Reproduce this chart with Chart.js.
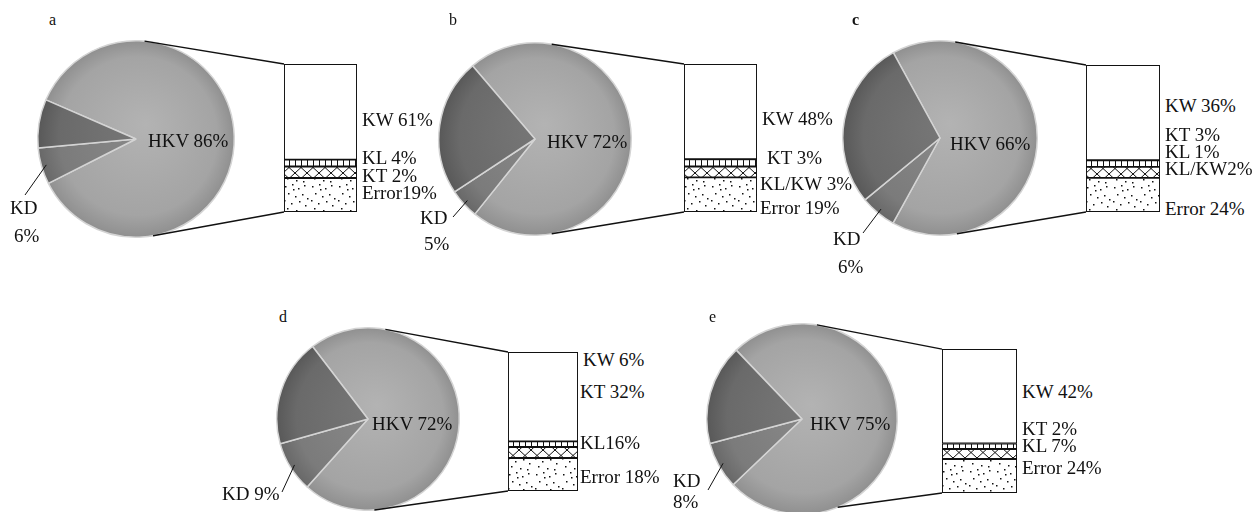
<!DOCTYPE html>
<html>
<head>
<meta charset="utf-8">
<script src="https://cdn.jsdelivr.net/npm/chart.js@4.4.0/dist/chart.umd.min.js"></script>
<style>
  body { margin: 0; background: #fff; }
  #fig { position: relative; width: 1258px; height: 512px; overflow: hidden;
         font-family: "Liberation Serif", "Times New Roman", serif; color: #111; }
  #fig canvas { position: absolute; }
  .lbl { position: absolute; font-size: 19px; line-height: 1; white-space: nowrap; transform: translateY(-50%); }
  .tag { position: absolute; font-size: 16px; line-height: 1; transform: translateY(-50%); }
</style>
</head>
<body>
<div id="fig"></div>
<script>
// ---- data ----
const panels = ['a', 'b', 'c', 'd', 'e'];

// pie slices (percent)
const pieCategories = ['HKV', 'KD', 'other'];
const hkvShare = [86, 72, 66, 72, 75];
const kdShare = [6, 5, 6, 9, 8];
const otherShare = [8, 23, 28, 19, 17];

// exploded bar, segments as drawn (percent of bar height, bottom to top)
const barCategories = ['Error', 'cross', 'stripe', 'open'];
const barError = [23.0, 23.4, 23.2, 23.8, 23.6];
const barCross = [7.8, 7.3, 7.5, 7.9, 6.9];
const barStripe = [4.6, 5.0, 4.5, 4.0, 3.9];
const barOpen = [64.6, 64.3, 64.8, 64.3, 65.5];

// text beside the bars
const barLabels = [
  ['KW 61%', 'KL 4%', 'KT 2%', 'Error19%'],
  ['KW 48%', 'KT 3%', 'KL/KW 3%', 'Error 19%'],
  ['KW 36%', 'KT 3%', 'KL 1%', 'KL/KW2%', 'Error 24%'],
  ['KW 6%', 'KT 32%', 'KL16%', 'Error 18%'],
  ['KW 42%', 'KT 2%', 'KL 7%', 'Error 24%']
];
const kdLabels = [['KD', '6%'], ['KD', '5%'], ['KD', '6%'], ['KD 9%'], ['KD', '8%']];

// ---- layout / style ----
const layout = [
  { cx: 136, cy: 139, r: 99, rot: 293.5, bar: [284, 64, 73, 148], link: [-85, 80],
    tag: [49, 20], hkv: [148, 140], barX: [362, 362, 362, 362], barY: [119, 157, 175, 192],
    kd: [[10, 207], [14, 235]], kdEnd: [25, 195] },
  { cx: 535, cy: 139, r: 97, rot: 319.5, bar: [684, 64, 73, 148], link: [-80, 80],
    tag: [449, 20], hkv: [547, 141], barX: [762, 767, 760, 760], barY: [118, 157, 183, 207],
    kd: [[420, 217], [424, 243]], kdEnd: [453, 217] },
  { cx: 940, cy: 138, r: 98, rot: 331.3, bar: [1086, 65, 74, 147], link: [-81, 80],
    tag: [852, 20], hkv: [950, 143], barX: [1165, 1165, 1165, 1165, 1165], barY: [105, 134, 151, 168, 208],
    kd: [[833, 238], [838, 266]], kdEnd: [863, 233] },
  { cx: 368, cy: 419, r: 92, rot: 322.6, bar: [508, 352, 70, 139], link: [-79, 86],
    tag: [279, 317], hkv: [372, 423], barX: [583, 580, 580, 580], barY: [359, 391, 442, 476],
    kd: [[222, 493]], kdEnd: [282, 492] },
  { cx: 802, cy: 419, r: 96, rot: 316.3, bar: [942, 349, 75, 144], link: [-81, 68],
    tag: [709, 317], hkv: [810, 423], barX: [1022, 1022, 1022, 1022], barY: [391, 428, 445, 467],
    kd: [[673, 480], [673, 501]], kdEnd: [708, 490] }
];

const fig = document.getElementById('fig');

function addText(txt, x, y, cls, bold) {
  const el = document.createElement('div');
  el.className = cls;
  el.textContent = txt;
  el.style.left = x + 'px';
  el.style.top = y + 'px';
  if (bold) el.style.fontWeight = 'bold';
  fig.appendChild(el);
}

function addCanvas(x, y, w, h) {
  const c = document.createElement('canvas');
  c.width = w; c.height = h;
  c.style.left = x + 'px'; c.style.top = y + 'px';
  c.style.width = w + 'px'; c.style.height = h + 'px';
  fig.appendChild(c);
  return c;
}

// fill patterns for the bar
function makeTile(w, h, draw) {
  const t = document.createElement('canvas');
  t.width = w; t.height = h;
  const g = t.getContext('2d');
  g.fillStyle = '#fff';
  g.fillRect(0, 0, w, h);
  g.strokeStyle = '#111';
  g.fillStyle = '#111';
  g.lineWidth = 1;
  draw(g);
  return g.createPattern(t, 'repeat');
}
const stripeFill = makeTile(6, 8, g => { g.fillRect(0, 0, 1, 8); });
const crossFill = makeTile(12, 11, g => {
  g.beginPath();
  g.moveTo(0, 0); g.lineTo(12, 11);
  g.moveTo(12, 0); g.lineTo(0, 11);
  g.stroke();
});
const dotSpots = [[2, 3], [9, 1], [15, 5], [21, 2], [5, 10], [12, 13], [19, 11], [1, 17],
                  [8, 20], [16, 18], [22, 22], [4, 25], [13, 27], [20, 28], [10, 6], [24, 15]];
const dotFill = makeTile(27, 30, g => { dotSpots.forEach(p => g.fillRect(p[0], p[1], 1.5, 1.5)); });

// pie shading
const sliceTones = [['#b3b3b3', '#a4a4a4', '#8f8f8f'], ['#8a8a8a', '#7b7b7b', '#676767'], ['#787878', '#6a6a6a', '#585858']];
function sliceFill(ctx) {
  const chart = ctx.chart;
  const area = chart.chartArea;
  const tones = sliceTones[ctx.dataIndex];
  if (!area) return tones[1];
  const x = (area.left + area.right) / 2, y = (area.top + area.bottom) / 2;
  const r = Math.min(area.width, area.height) / 2;
  const g = chart.ctx.createRadialGradient(x + r * 0.1, y - r * 0.15, 0, x, y, r);
  g.addColorStop(0, tones[0]);
  g.addColorStop(0.8, tones[1]);
  g.addColorStop(1, tones[2]);
  return g;
}

const pies = [];
const bars = [];

panels.forEach((p, i) => {
  const L = layout[i];
  const size = 2 * L.r + 4;
  const pc = addCanvas(L.cx - L.r - 2, L.cy - L.r - 2, size, size);
  pies.push(new Chart(pc, {
    type: 'pie',
    data: {
      labels: pieCategories,
      datasets: [{
        data: [hkvShare[i], kdShare[i], otherShare[i]],
        backgroundColor: sliceFill,
        borderColor: '#d4d4d4',
        borderWidth: 1.5
      }]
    },
    options: {
      responsive: false,
      animation: false,
      rotation: L.rot,
      layout: { padding: 2 },
      plugins: { legend: { display: false }, tooltip: { enabled: false } }
    }
  }));

  const [bx, by, bw, bh] = L.bar;
  const bc = addCanvas(bx - 1, by - 1, bw + 2, bh + 2);
  const fills = [dotFill, crossFill, stripeFill, '#ffffff'];
  const values = [barError[i], barCross[i], barStripe[i], barOpen[i]];
  bars.push(new Chart(bc, {
    type: 'bar',
    data: {
      labels: [p],
      datasets: barCategories.map((name, k) => ({
        label: name,
        data: [values[k]],
        backgroundColor: fills[k],
        borderColor: '#111',
        borderWidth: 1.3,
        borderSkipped: false,
        barPercentage: 1,
        categoryPercentage: 1
      }))
    },
    options: {
      responsive: false,
      animation: false,
      layout: { padding: 1 },
      scales: {
        x: { display: false, stacked: true },
        y: { display: false, stacked: true, min: 0, max: 100 }
      },
      plugins: { legend: { display: false }, tooltip: { enabled: false } }
    }
  }));

  addText(p, L.tag[0], L.tag[1], 'tag', p === 'c');
  addText('HKV ' + hkvShare[i] + '%', L.hkv[0], L.hkv[1], 'lbl');
  barLabels[i].forEach((t, k) => addText(t, L.barX[k], L.barY[k], 'lbl'));
  kdLabels[i].forEach((t, k) => addText(t, L.kd[k][0], L.kd[k][1], 'lbl'));
});

// connector lines and KD leader lines
const over = addCanvas(0, 0, 1258, 512);
over.style.pointerEvents = 'none';
const g = over.getContext('2d');
g.strokeStyle = '#111';
g.lineWidth = 1.4;

panels.forEach((p, i) => {
  const L = layout[i];
  const pc = pies[i].canvas, bc = bars[i].canvas;
  const ox = parseFloat(pc.style.left), oy = parseFloat(pc.style.top);
  const bxo = parseFloat(bc.style.left), byo = parseFloat(bc.style.top);
  const arcs = pies[i].getDatasetMeta(0).data;
  const cx = arcs[0].x + ox, cy = arcs[0].y + oy, R = arcs[0].outerRadius;
  const topSeg = bars[i].getDatasetMeta(3).data[0];
  const botSeg = bars[i].getDatasetMeta(0).data[0];
  const left = topSeg.x - topSeg.width / 2 + bxo;
  const top = topSeg.y + byo, bottom = botSeg.base + byo;
  const a1 = L.link[0] * Math.PI / 180, a2 = L.link[1] * Math.PI / 180;

  g.beginPath();
  g.moveTo(cx + R * Math.cos(a1), cy + R * Math.sin(a1));
  g.lineTo(left, top);
  g.moveTo(cx + R * Math.cos(a2), cy + R * Math.sin(a2));
  g.lineTo(left, bottom);
  g.stroke();

  // leader from KD slice to its label
  const kdArc = arcs[1];
  const mid = (kdArc.startAngle + kdArc.endAngle) / 2;
  g.save();
  g.lineWidth = 1;
  g.beginPath();
  g.moveTo(cx + 0.95 * R * Math.cos(mid), cy + 0.95 * R * Math.sin(mid));
  g.lineTo(L.kdEnd[0], L.kdEnd[1]);
  g.stroke();
  g.restore();
});
</script>
</body>
</html>
